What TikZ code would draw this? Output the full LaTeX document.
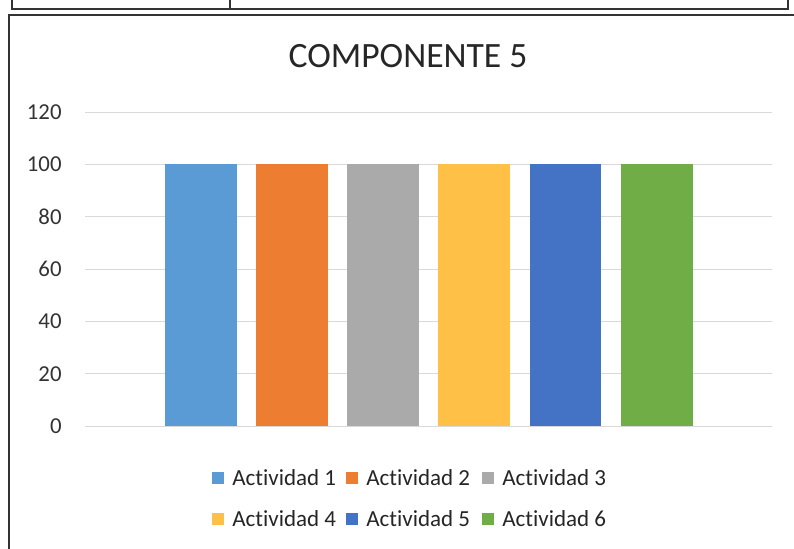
\documentclass[tikz,border=0pt]{standalone}
\usepackage{xcolor}
\usepackage{fontspec}
\usepackage{tikz}
\setmainfont{Carlito}[Ligatures=NoCommon]

\definecolor{act1}{RGB}{91,155,213}
\definecolor{act2}{RGB}{237,125,49}
\definecolor{act3}{RGB}{170,170,170}
\definecolor{act4}{RGB}{255,192,72}
\definecolor{act5}{RGB}{68,114,196}
\definecolor{act6}{RGB}{112,173,71}

\begin{document}
\begin{tikzpicture}[x=0.5pt, y=-0.5pt,
    ticklab/.style={left, inner sep=0pt, text=black!80, font=\fontsize{11.4}{13}\selectfont},
    legtext/.style={right, inner sep=0pt, text=black!85, font=\fontsize{11.5}{13}\selectfont},
    frameline/.style={line width=1pt, black!80}]
    \useasboundingbox (0,0) rectangle (794,549);

    % Page frame
    \draw[frameline] (12,0) -- (12,9) -- (788,9) -- (788,0);
    \draw[frameline] (230,0) -- (230,9);
    \draw[frameline, line width=1.3pt] (794,15) -- (9,15) -- (9,549);

    % Title
    \node[font=\fontsize{17.8}{20}\selectfont, text=black!85] (title) at (408,56) {COMPONENTE 5};

    % Grid lines
    \draw[black!15, line width=0.4pt] (85,426) -- (772,426);
    \draw[black!15, line width=0.4pt] (85,373.7) -- (772,373.7);
    \draw[black!15, line width=0.4pt] (85,321.3) -- (772,321.3);
    \draw[black!15, line width=0.4pt] (85,269) -- (772,269);
    \draw[black!15, line width=0.4pt] (85,216.7) -- (772,216.7);
    \draw[black!15, line width=0.4pt] (85,164.3) -- (772,164.3);
    \draw[black!15, line width=0.4pt] (85,112) -- (772,112);

    % Axis labels
    \node[ticklab] (lab0) at (62,426) {0};
    \node[ticklab] (lab20) at (62,373.7) {20};
    \node[ticklab] (lab40) at (62,321.3) {40};
    \node[ticklab] (lab60) at (62,269) {60};
    \node[ticklab] (lab80) at (62,216.7) {80};
    \node[ticklab] (lab100) at (62,164.3) {100};
    \node[ticklab] (lab120) at (62,112) {120};

    % Bars
    \fill[act1] (165,164.3) rectangle (237,426);
    \fill[act2] (256,164.3) rectangle (328,426);
    \fill[act3] (347,164.3) rectangle (419,426);
    \fill[act4] (438,164.3) rectangle (510,426);
    \fill[act5] (530,164.3) rectangle (601,426);
    \fill[act6] (621,164.3) rectangle (693,426);

    % Legend, first row
    \fill[act1] (212,472) rectangle (224,484);
    \node[legtext] (leg1) at (232,478) {Actividad 1};
    \fill[act2] (346,472) rectangle (358,484);
    \node[legtext] (leg2) at (366,478) {Actividad 2};
    \fill[act3] (482,472) rectangle (494,484);
    \node[legtext] (leg3) at (502,478) {Actividad 3};

    % Legend, second row
    \fill[act4] (212,513) rectangle (224,525);
    \node[legtext] (leg4) at (232,519) {Actividad 4};
    \fill[act5] (346,513) rectangle (358,525);
    \node[legtext] (leg5) at (366,519) {Actividad 5};
    \fill[act6] (482,513) rectangle (494,525);
    \node[legtext] (leg6) at (502,519) {Actividad 6};
\end{tikzpicture}
\end{document}
